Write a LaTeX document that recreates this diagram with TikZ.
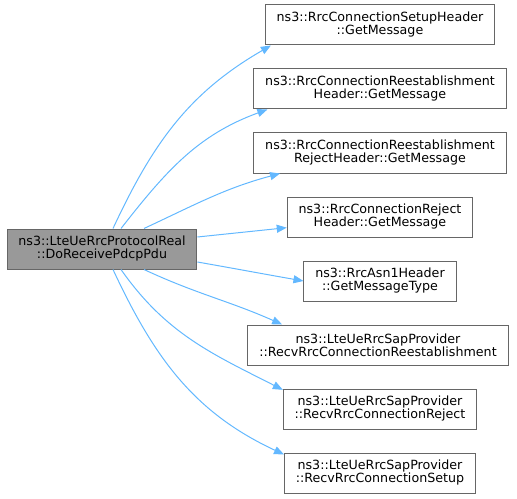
\documentclass[tikz,border=0pt]{standalone}
\usepackage{fontspec}
\setmainfont{DejaVu Sans}
\usepackage{tikz}
\usetikzlibrary{arrows.meta}

\definecolor{edgeblue}{HTML}{63B8FF}
\definecolor{boxline}{HTML}{666666}
\definecolor{boxgrey}{HTML}{999999}

\begin{document}
\begin{tikzpicture}[
        x=0.75pt, y=0.75pt,
        fnbox/.style={draw=boxline, fill=white, line width=0.75pt, align=center, inner xsep=8.5pt, minimum height=30pt, font=\fontsize{9.5}{9.75}\selectfont},
        mainbox/.style={fnbox, fill=boxgrey},
        call/.style={-{Triangle[length=7.5pt, width=6pt]}, draw=edgeblue, line width=0.75pt}
    ]
        \useasboundingbox (0,0) rectangle (517,-499);

        \node[mainbox] (caller) at (102,-249) {ns3::LteUeRrcProtocolReal\\::DoReceivePdcpPdu};

        \node[fnbox] (setuphdr) at (380,-25) {ns3::RrcConnectionSetupHeader\\::GetMessage};
        \node[fnbox] (reesthdr) at (380,-89) {ns3::RrcConnectionReestablishment\\Header::GetMessage};
        \node[fnbox] (reestrejhdr) at (380,-153) {ns3::RrcConnectionReestablishment\\RejectHeader::GetMessage};
        \node[fnbox] (rejhdr) at (380,-217) {ns3::RrcConnectionReject\\Header::GetMessage};
        \node[fnbox] (asnhdr) at (380,-281) {ns3::RrcAsn1Header\\::GetMessageType};
        \node[fnbox] (recvreest) at (378,-345) {ns3::LteUeRrcSapProvider\\::RecvRrcConnectionReestablishment};
        \node[fnbox] (recvrej) at (380,-409) {ns3::LteUeRrcSapProvider\\::RecvRrcConnectionReject};
        \node[fnbox] (recvsetup) at (380,-473) {ns3::LteUeRrcSapProvider\\::RecvRrcConnectionSetup};

        % calls above the caller
        \draw[call] ([xshift=8.25pt]caller.north) to[out=65, in=210] ([xshift=4.5pt]setuphdr.south west);
        \draw[call] ([xshift=14.25pt]caller.north) to[out=52, in=200] ([xshift=10.5pt]reesthdr.south west);
        \draw[call] ([xshift=31.5pt]caller.north) to[out=25, in=195] ([xshift=20pt]reestrejhdr.south west);
        \draw[call] ([yshift=9pt]caller.east) to[out=6, in=186] ([yshift=-8pt]rejhdr.west);
        \draw[call] ([yshift=-9.75pt]caller.east) to[out=-10, in=170] (asnhdr.west);

        % calls below the caller
        \draw[call] ([xshift=31.5pt]caller.south) to[out=-25, in=156] ([xshift=26pt]recvreest.north west);
        \draw[call] ([xshift=14.25pt]caller.south) to[out=-55, in=153] ([yshift=-1pt]recvrej.north west);
        \draw[call] ([xshift=8.25pt]caller.south) to[out=-65, in=155] ([yshift=-1.5pt]recvsetup.north west);
    \end{tikzpicture}
\end{document}
